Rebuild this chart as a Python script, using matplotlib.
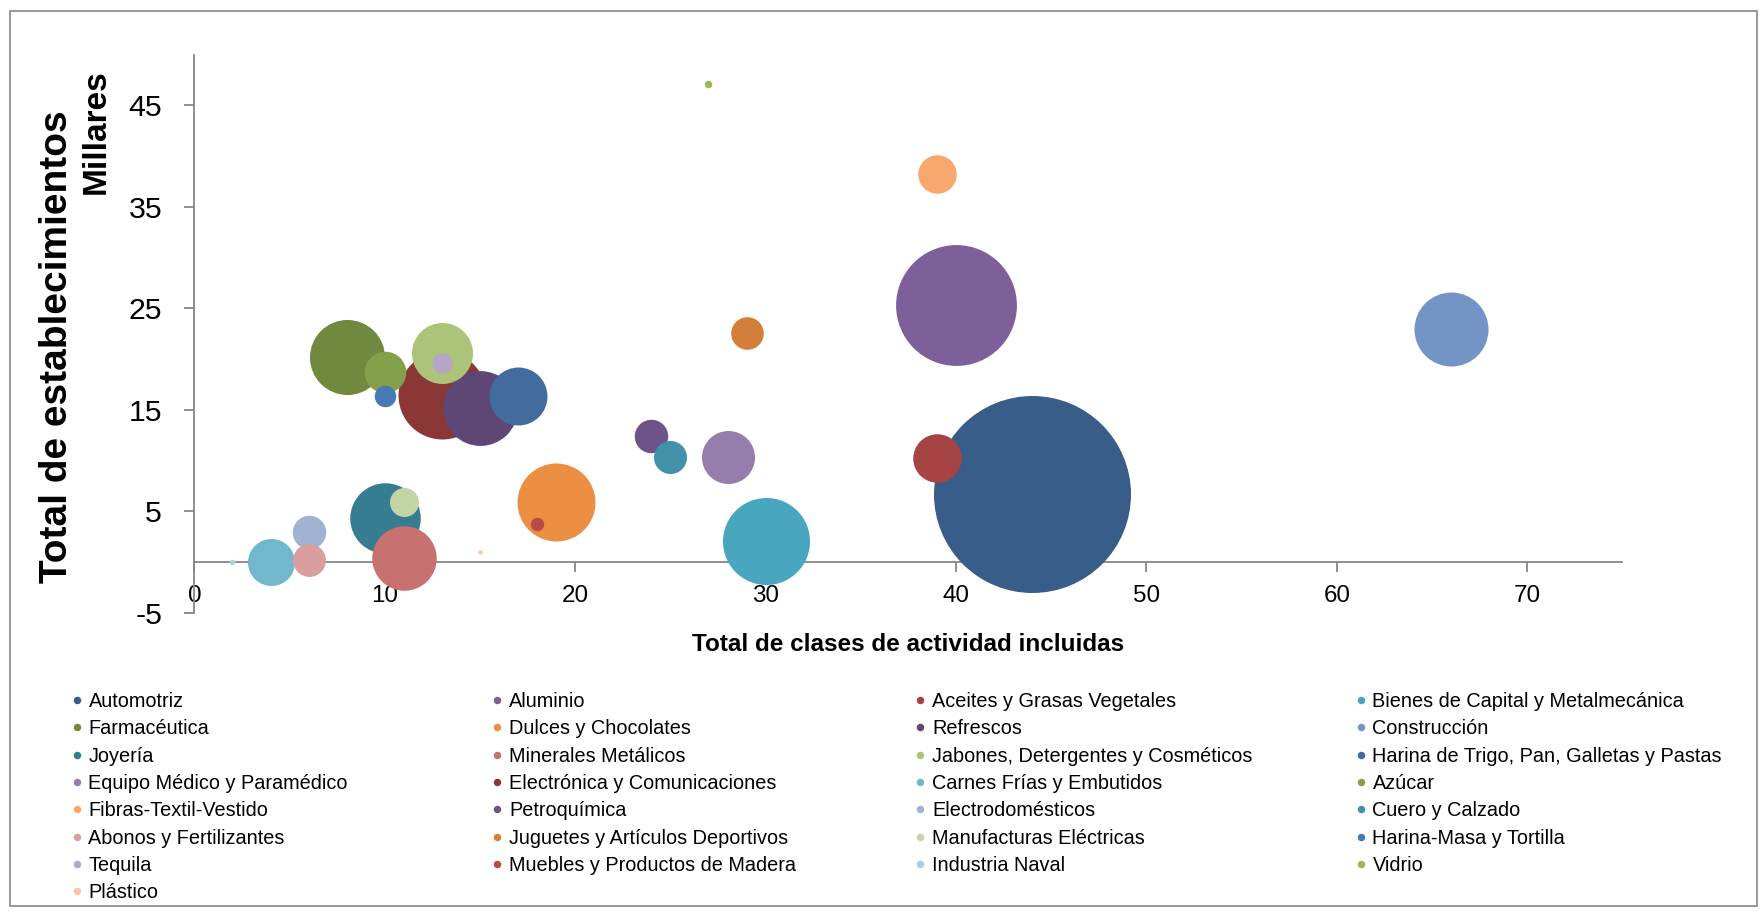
import numpy as np
import matplotlib
matplotlib.use("Agg")
import matplotlib.pyplot as plt
from matplotlib.lines import Line2D
from matplotlib.patches import Rectangle
from matplotlib import font_manager


sectores = ["Automotriz", "Aluminio", "Aceites y Grasas Vegetales",
            "Bienes de Capital y Metalmecánica", "Farmacéutica", "Dulces y Chocolates",
            "Refrescos", "Construcción", "Joyería", "Minerales Metálicos",
            "Jabones, Detergentes y Cosméticos", "Harina de Trigo, Pan, Galletas y Pastas",
            "Equipo Médico y Paramédico", "Electrónica y Comunicaciones",
            "Carnes Frías y Embutidos", "Azúcar", "Fibras-Textil-Vestido", "Petroquímica",
            "Electrodomésticos", "Cuero y Calzado", "Abonos y Fertilizantes",
            "Juguetes y Artículos Deportivos", "Manufacturas Eléctricas",
            "Harina-Masa y Tortilla", "Tequila", "Muebles y Productos de Madera",
            "Industria Naval", "Vidrio", "Plástico"]

# clases de actividad (x), establecimientos en millares (y), tamaño de burbuja
clases = [44, 40, 39, 30, 8, 19, 15, 66, 10, 11, 13, 17, 28, 13, 4,
          10, 39, 24, 6, 25, 6, 29, 11, 10, 13, 18, 2, 27, 15]
establecimientos = [6.7, 25.3, 10.25, 2.1, 20.2, 5.9, 15.2, 23.0, 4.3, 0.35, 20.6, 16.4, 10.3, 16.5, 0.0,
                    18.75, 38.2, 12.4, 3.0, 10.35, 0.15, 22.6, 5.9, 16.4, 19.65, 3.75, 0.0, 47.1, 1.0]
tamano = [388, 146, 23.5, 75.7, 56.3, 60.8, 56.0, 54.8, 49.7, 41.6, 37.2, 33.6, 28.1, 77.4, 22.1,
          17.2, 14.8, 11.2, 11.2, 10.9, 10.8, 10.6, 8.4, 4.6, 4.2, 1.8, 0.3, 0.56, 0.2]

colores = ["#395D89", "#7D5F99", "#A54442", "#48A6BE", "#71893F", "#EC8F43",
           "#5E4775", "#7394C5", "#367D91", "#C87171", "#ABC47A", "#426C9E",
           "#957EAC", "#8A3735", "#72B8CC", "#84A04A", "#F8A86E", "#6D5389",
           "#A1B3D3", "#4191A8", "#DA9E9E", "#D37F3A", "#C3D5A5", "#4A7AB4",
           "#B3A6C6", "#B94A48", "#A6D0DF", "#9AB858", "#FAC5A6"]

gris = "#868686"
W, H, DPI = 1763, 913, 100

familias = {f.name for f in font_manager.fontManager.ttflist}
estrecha = "Liberation Sans Narrow" if "Liberation Sans Narrow" in familias else "Liberation Sans"
plt.rcParams["font.family"] = ["Liberation Sans", "DejaVu Sans"]
plt.rcParams["axes.unicode_minus"] = False

fig = plt.figure(figsize=(W / DPI, H / DPI), dpi=DPI)
fig.add_artist(Rectangle((10 / W, 1 - 906 / H), (1757 - 10) / W, (906 - 11) / H,
                         transform=fig.transFigure, fill=False, edgecolor=gris, linewidth=1.2))

ax = fig.add_axes([194.4 / W, 1 - 612.75 / H, 1428 / W, 558.25 / H])
ax.set_xlim(0, 75)
ax.set_ylim(-5, 50)
ax.set_xticks(range(0, 71, 10))
ax.set_yticks(range(-5, 46, 10))

ax.spines["top"].set_visible(False)
ax.spines["right"].set_visible(False)
ax.spines["bottom"].set_position(("data", 0))
for lado in ["left", "bottom"]:
    ax.spines[lado].set_color(gris)
    ax.spines[lado].set_linewidth(1.3)

ax.tick_params(axis="y", direction="out", length=7.2, width=1.3, color=gris, pad=16,
               labelsize=21.8, labelcolor="black")
ax.tick_params(axis="x", direction="out", length=7.2, width=1.3, color=gris, pad=9,
               labelsize=17.4, labelcolor="black")
for etiqueta in ax.get_xticklabels():
    etiqueta.set_family(estrecha)

# burbujas: area proporcional al tamaño, las grandes quedan detras
diam_max = 197 * 72 / DPI
escala = diam_max ** 2 / max(tamano)
orden = np.argsort(-np.array(tamano), kind="stable")
for rango, i in enumerate(orden):
    ax.scatter(clases[i], establecimientos[i], s=tamano[i] * escala, color=colores[i],
               linewidths=0, zorder=3 + rango, clip_on=False)

fig.text(57 / W, 1 - 347 / H, "Total de establecimientos", rotation=90, ha="center", va="center",
         fontsize=28, fontweight="bold")
fig.text(96.5 / W, 1 - 131.5 / H, "Millares", rotation=90, ha="center", va="center",
         fontsize=24, fontweight="bold")
fig.text(908 / W, 1 - 644 / H, "Total de clases de actividad incluidas", ha="center", va="center",
         fontsize=17.5, fontweight="bold")

# leyenda en 4 columnas, orden por filas
col_x = [76.5, 497, 920, 1360.5]
for c in range(4):
    idx = list(range(c, len(sectores), 4))
    manijas = [Line2D([], [], marker="o", linestyle="", markersize=5.4, markeredgewidth=0,
                      color=colores[i]) for i in idx]
    fig.legend(manijas, [sectores[i] for i in idx], loc="upper left",
               bbox_to_anchor=((col_x[c] - 5.9) / W, 1 - 692 / H), bbox_transform=fig.transFigure,
               frameon=False, borderpad=0, borderaxespad=0, handlelength=0.6, handletextpad=0.3,
               labelspacing=0.42, fontsize=14.3)

fig.savefig("out.png", dpi=DPI)
